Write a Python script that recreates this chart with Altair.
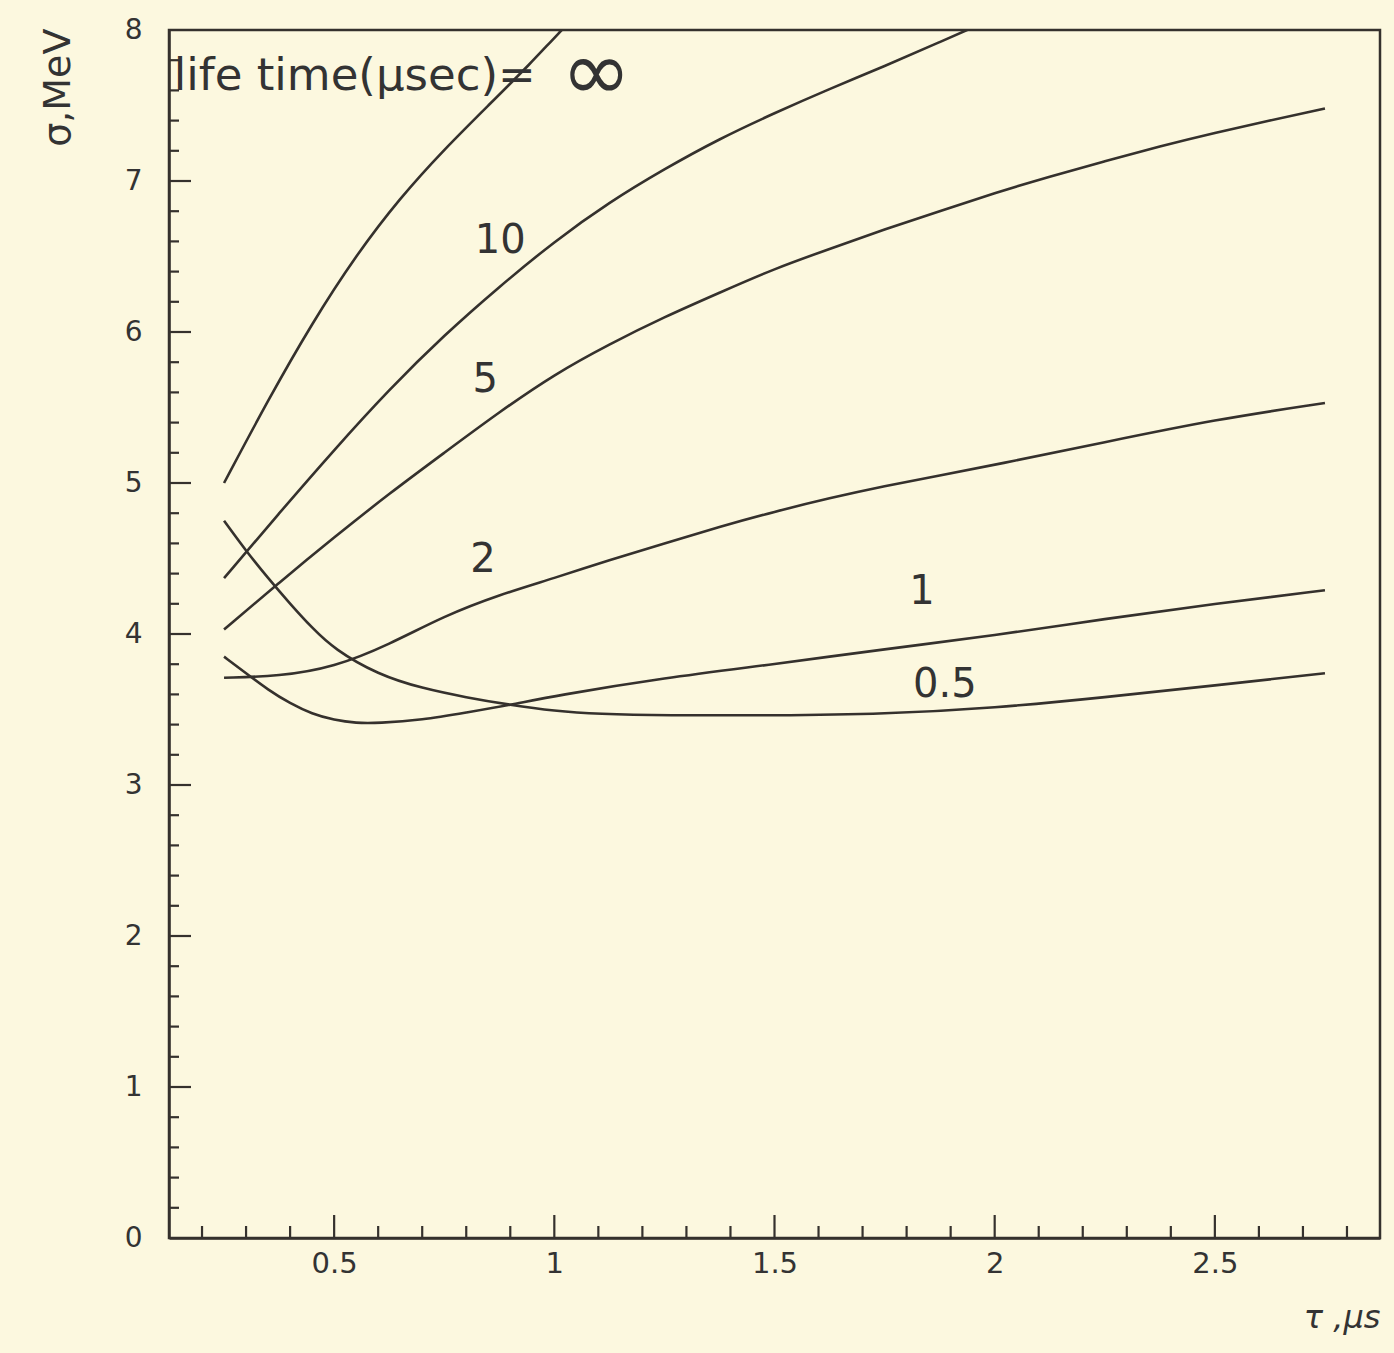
import altair as alt
import pandas as pd

# ---- data ----
tau_inf = [0.25, 0.35, 0.45, 0.55, 0.65, 0.75, 0.85, 0.95, 1.0, 1.1]
sig_inf = [5.0, 5.55, 6.06, 6.51, 6.89, 7.21, 7.50, 7.79, 7.95, 8.25]

tau_10 = [0.25, 0.375, 0.5, 0.625, 0.75, 0.875, 1.0, 1.125, 1.25, 1.375, 1.5, 1.625, 1.75, 1.875, 2.0]
sig_10 = [4.37, 4.80, 5.22, 5.62, 5.98, 6.30, 6.60, 6.86, 7.08, 7.28, 7.45, 7.61, 7.76, 7.92, 8.08]

tau_5 = [0.25, 0.375, 0.5, 0.625, 0.75, 0.875, 1.0, 1.125, 1.25, 1.375, 1.5, 1.625, 1.75,
         1.875, 2.0, 2.125, 2.25, 2.375, 2.5, 2.625, 2.75]
sig_5 = [4.03, 4.34, 4.64, 4.93, 5.20, 5.47, 5.72, 5.92, 6.10, 6.26, 6.42, 6.55, 6.68,
         6.80, 6.92, 7.03, 7.13, 7.23, 7.32, 7.40, 7.48]

tau_2 = [0.25, 0.375, 0.5, 0.625, 0.75, 0.875, 1.0, 1.125, 1.25, 1.375, 1.5, 1.625, 1.75,
         1.875, 2.0, 2.25, 2.5, 2.75]
sig_2 = [3.71, 3.72, 3.78, 3.93, 4.12, 4.26, 4.37, 4.49, 4.60, 4.71, 4.81, 4.90, 4.98,
         5.05, 5.12, 5.27, 5.42, 5.53]

tau_1 = [0.25, 0.3, 0.35, 0.4, 0.45, 0.5, 0.55, 0.6, 0.7, 0.8, 0.9, 1.0, 1.25, 1.5, 1.75,
         2.0, 2.25, 2.5, 2.75]
sig_1 = [3.85, 3.74, 3.63, 3.54, 3.47, 3.43, 3.41, 3.41, 3.43, 3.48, 3.53, 3.59, 3.71, 3.80,
         3.90, 3.99, 4.10, 4.20, 4.29]

tau_05 = [0.25, 0.3, 0.35, 0.4, 0.45, 0.5, 0.6, 0.7, 0.8, 0.9, 1.0, 1.1, 1.25, 1.5, 1.75,
          2.0, 2.25, 2.5, 2.75]
sig_05 = [4.75, 4.55, 4.37, 4.20, 4.04, 3.90, 3.73, 3.64, 3.58, 3.53, 3.49, 3.47, 3.46, 3.46,
          3.47, 3.51, 3.58, 3.66, 3.74]

curve_names = ["inf", "10", "5", "2", "1", "0.5"]
curve_tau = [tau_inf, tau_10, tau_5, tau_2, tau_1, tau_05]
curve_sig = [sig_inf, sig_10, sig_5, sig_2, sig_1, sig_05]

label_text = ["10", "5", "2", "1", "0.5"]
label_tau = [0.877, 0.843, 0.838, 1.835, 1.887]
label_sig = [6.60, 5.68, 4.49, 4.28, 3.66]

x_tick_labels = [0.5, 1, 1.5, 2, 2.5]
y_tick_labels = [0, 1, 2, 3, 4, 5, 6, 7, 8]

# ---- build tables ----
rows = []
for name, xs, ys in zip(curve_names, curve_tau, curve_sig):
    for x, y in zip(xs, ys):
        rows.append({"curve": name, "tau": x, "sigma": y})
df = pd.DataFrame(rows)
labels_df = pd.DataFrame({"text": label_text, "tau": label_tau, "sigma": label_sig})

x_minor = [round(0.1 * i, 1) for i in range(2, 29) if (i % 5) != 0]
x_major = [0.5, 1.0, 1.5, 2.0, 2.5]
y_minor = [round(0.2 * i, 1) for i in range(1, 40) if (i % 5) != 0]
y_major = [1, 2, 3, 4, 5, 6, 7]

INK = "#35312d"
BG = "#FCF8DF"
FONT = "DejaVu Sans"
W, H = 1211, 1208

xscale = alt.Scale(domain=[0.125, 2.875], nice=False, zero=False)
yscale = alt.Scale(domain=[0, 8], nice=False, zero=False)

xaxis = alt.Axis(values=x_tick_labels, format="~g", grid=False, ticks=False, tickSize=0,
                 domainColor=INK, domainWidth=2.5, labelFont=FONT, labelFontSize=29,
                 labelColor="#333", labelPadding=11, labelFlush=False,
                 title="τ ,μs", titleFont=FONT, titleFontSize=32, titleFontStyle="italic",
                 titleFontWeight="normal", titleColor="#333", titleX=W, titleY=89,
                 titleAlign="right", titleBaseline="alphabetic")
yaxis = alt.Axis(values=y_tick_labels, format="d", grid=False, ticks=False, tickSize=0,
                 domainColor=INK, domainWidth=2.5, labelFont=FONT, labelFontSize=28,
                 labelColor="#333", labelPadding=27, labelFlush=False,
                 title="σ,MeV", titleFont=FONT, titleFontSize=38, titleFontWeight="normal",
                 titleColor="#333", titleAngle=270, titleAlign="right",
                 titleBaseline="alphabetic", titleX=-100, titleY=-2)

lines = alt.Chart(df).mark_line(clip=True, color=INK, strokeWidth=2.6,
                                interpolate="basis").encode(
    x=alt.X("tau:Q", scale=xscale, axis=xaxis),
    y=alt.Y("sigma:Q", scale=yscale, axis=yaxis),
    detail="curve:N",
)

def xticks(vals, length):
    return alt.Chart(pd.DataFrame({"v": vals})).mark_rule(color=INK, strokeWidth=2.2).encode(
        x=alt.X("v:Q", scale=xscale), y=alt.value(H), y2=alt.value(H - length))

def yticks(vals, length):
    return alt.Chart(pd.DataFrame({"v": vals})).mark_rule(color=INK, strokeWidth=2.2).encode(
        y=alt.Y("v:Q", scale=yscale), x=alt.value(0), x2=alt.value(length))

curve_labels = alt.Chart(labels_df).mark_text(
    font=FONT, fontSize=40, color="#333", align="center", baseline="middle").encode(
    x=alt.X("tau:Q", scale=xscale), y=alt.Y("sigma:Q", scale=yscale), text="text:N")

header_df = pd.DataFrame({"text": ["life time(μsec)="], "tau": [0.136], "sigma": [7.60]})
header = alt.Chart(header_df).mark_text(
    font=FONT, fontSize=45, color="#333", align="left", baseline="alphabetic").encode(
    x=alt.X("tau:Q", scale=xscale), y=alt.Y("sigma:Q", scale=yscale), text="text:N")

inf_df = pd.DataFrame({"text": ["∞"], "tau": [1.095], "sigma": [7.70]})
inf_mark = alt.Chart(inf_df).mark_text(
    font=FONT, fontSize=84, color="#333", align="center", baseline="middle").encode(
    x=alt.X("tau:Q", scale=xscale), y=alt.Y("sigma:Q", scale=yscale), text="text:N")

chart = alt.layer(
    lines,
    xticks(x_minor, 12), xticks(x_major, 23),
    yticks(y_minor, 10), yticks(y_major, 22),
    curve_labels, header, inf_mark,
).properties(
    width=W, height=H,
    autosize=alt.AutoSizeParams(type="none"),
    padding={"left": 169, "top": 30, "right": 14, "bottom": 115},
    background=BG,
).configure_view(stroke=INK, strokeWidth=2.5)

chart.save("out.html", embed_options={"renderer": "svg", "actions": False})
